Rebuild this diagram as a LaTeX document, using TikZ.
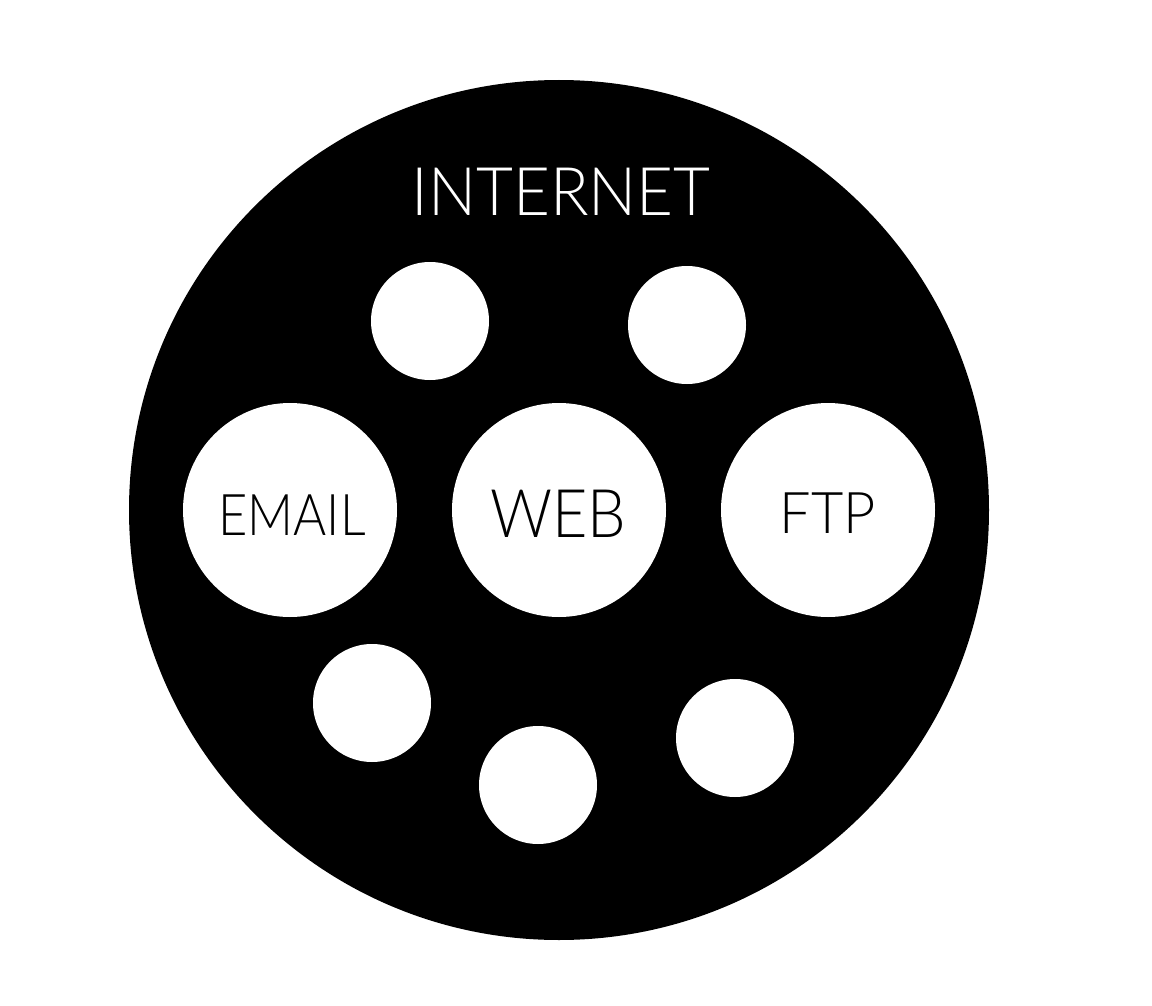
\documentclass[tikz,border=0pt]{standalone}
\usepackage{graphicx}
\usepackage{fontspec}
\setmainfont{Lato}[UprightFont={* Light}]
\begin{document}
\begin{tikzpicture}[x=1pt,y=-1pt,
  disc/.style={circle,fill=white,draw=none,inner sep=0pt,minimum size=#1},
  lbl/.style={text=black,inner sep=0pt,anchor=base}]
\useasboundingbox (0,0) rectangle (1152,1006);
\fill[black] (559,510) circle (430);
\node[text=white,inner sep=0pt,font=\fontsize{67}{67}\selectfont,anchor=base] (internet) at (561,215) {\scalebox{0.95}[1]{INTERNET}};
\node[disc=118pt] (c1) at (430,321) {};
\node[disc=118pt] (c2) at (687,325) {};
\node[disc=214pt] (email) at (290,510) {};
\node[disc=214pt] (web) at (559,510) {};
\node[disc=214pt] (ftp) at (828,510) {};
\node[disc=118pt] (c3) at (372,703) {};
\node[disc=118pt] (c4) at (538,785) {};
\node[disc=118pt] (c5) at (735,738) {};
\node[lbl,font=\fontsize{57.5}{57.5}\selectfont] (emailt) at (292,535) {\scalebox{0.88}[1]{EMAIL}};
\node[lbl,font=\fontsize{67}{67}\selectfont] (webt) at (558.5,537) {\scalebox{0.91}[1]{WEB}};
\node[lbl,font=\fontsize{57.5}{57.5}\selectfont] (ftpt) at (828,533) {\scalebox{0.97}[1]{FTP}};
\end{tikzpicture}
\end{document}
